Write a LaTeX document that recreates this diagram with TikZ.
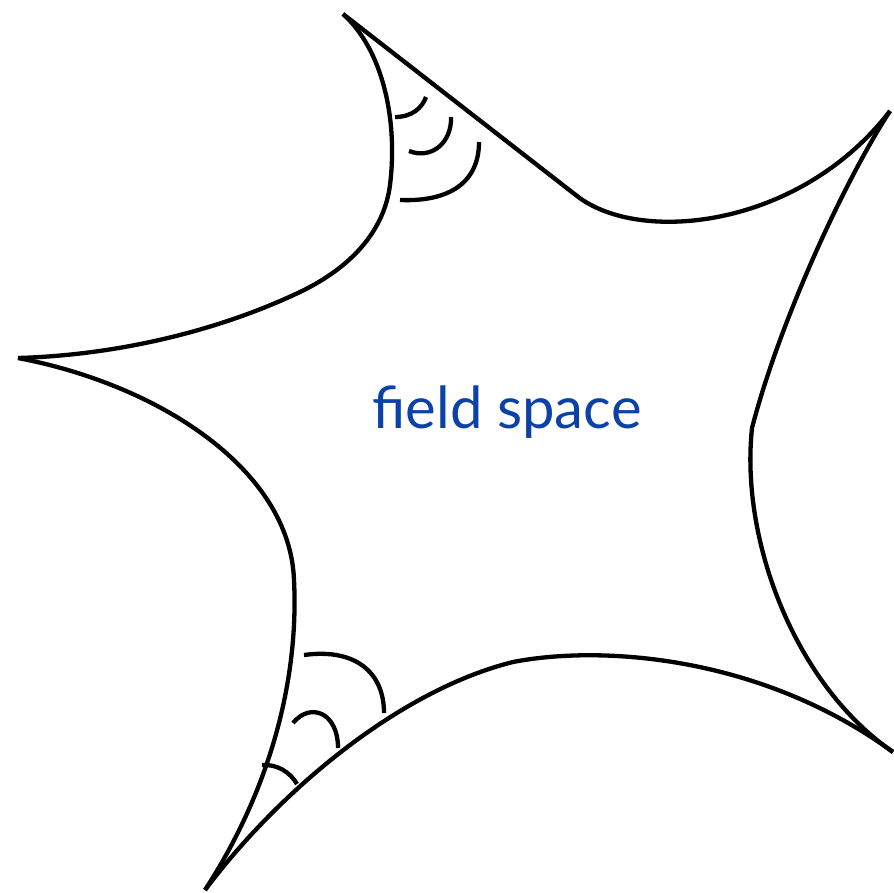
\documentclass[tikz,border=0pt]{standalone}
\usepackage{fontspec}
\newfontfamily\labelfont{Lato}
\definecolor{fsblue}{RGB}{12,66,168}
\begin{document}
\begin{tikzpicture}[x=1pt,y=-1pt,
  edge/.style={line width=4.3pt,black},
  anglearc/.style={line width=4.3pt,black},
  lbl/.style={font=\labelfont\fontsize{58}{60}\selectfont,text=fsblue,inner sep=0pt}]
\useasboundingbox (0,0) rectangle (894,892);
% cusps
\coordinate (ctop) at (343,14);
\coordinate (cright) at (890,111);
\coordinate (cleft) at (18,358);
\coordinate (cbl) at (205,890);
\coordinate (cbr) at (893,752);
\coordinate (kink1) at (577,196);
\coordinate (kink2) at (752,428);
\coordinate (kink3) at (513,662);
% top edge
\draw[edge] (ctop) -- (kink1) .. controls (640,245) and (800,228) .. (cright);
% upper-left edge
\draw[edge] (ctop) .. controls (383,50) and (398,120) .. (390,185)
  .. controls (384,232) and (350,268) .. (300,292)
  .. controls (220,330) and (120,355) .. (cleft);
% lower-left edge
\draw[edge] (cleft) .. controls (160,385) and (290,470) .. (294,580)
  .. controls (299,680) and (270,790) .. (cbl);
% bottom edge
\draw[edge] (cbl) .. controls (280,790) and (400,690) .. (kink3)
  .. controls (600,645) and (760,655) .. (cbr);
% right edge
\draw[edge] (cright) .. controls (845,180) and (780,320) .. (kink2)
  .. controls (740,540) and (795,685) .. (cbr);
% angle arcs at top cusp
\draw[anglearc] (395,117) .. controls (412,117) and (422,108) .. (426,97);
\draw[anglearc] (409,151) .. controls (432,160) and (452,142) .. (451,117);
\draw[anglearc] (400,200) .. controls (450,202) and (479,182) .. (479,142);
% angle arcs at bottom-left cusp
\draw[anglearc] (304,655) .. controls (355,648) and (384,672) .. (384,713);
\draw[anglearc] (293,723) .. controls (310,702) and (338,712) .. (338,748);
\draw[anglearc] (262,765) .. controls (277,764) and (290,772) .. (297,784);
% label
\node[lbl] (label) at (507,412) {field space};
\end{tikzpicture}
\end{document}
